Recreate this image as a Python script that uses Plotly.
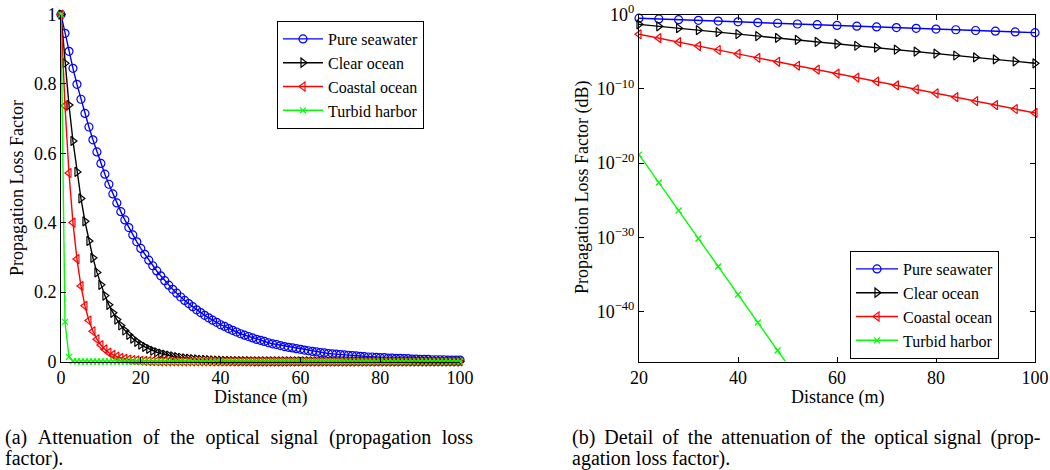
import plotly.graph_objects as go

# ---------------- data ----------------
names = ["Pure seawater", "Clear ocean", "Coastal ocean", "Turbid harbor"]

dist_a = list(range(0, 101))  # 0..100 m, 1 m step

pure_a = [
    1.000, 0.946, 0.894, 0.845, 0.799, 0.756, 0.715, 0.676, 0.639, 0.604,
    0.571, 0.540, 0.511, 0.483, 0.457, 0.432, 0.408, 0.386, 0.365, 0.345,
    0.326, 0.309, 0.292, 0.276, 0.261, 0.247, 0.233, 0.220, 0.208, 0.197,
    0.186, 0.176, 0.167, 0.158, 0.149, 0.141, 0.133, 0.126, 0.119, 0.113,
    0.106, 0.101, 0.095, 0.090, 0.085, 0.080, 0.076, 0.072, 0.068, 0.064,
    0.061, 0.058, 0.054, 0.051, 0.049, 0.046, 0.043, 0.041, 0.039, 0.037,
    0.035, 0.033, 0.031, 0.029, 0.028, 0.026, 0.025, 0.023, 0.022, 0.021,
    0.020, 0.019, 0.018, 0.017, 0.016, 0.015, 0.014, 0.013, 0.013, 0.012,
    0.011, 0.011, 0.010, 0.010, 0.009, 0.009, 0.008, 0.008, 0.007, 0.007,
    0.006, 0.006, 0.006, 0.005, 0.005, 0.005, 0.005, 0.004, 0.004, 0.004,
    0.004,
]
clear_a = [
    1.0, 0.8598, 0.7393, 0.6357, 0.5466, 0.4700, 0.4041, 0.3475, 0.2988, 0.2569,
    0.2209, 0.1899, 0.1633, 0.1404, 0.1208, 0.1038, 0.0893, 0.0768, 0.0660, 0.0568,
    0.0488, 0.0420, 0.0361, 0.0310, 0.0267, 0.0229, 0.0197, 0.0170, 0.0146, 0.0125,
    0.0108, 0.0093, 0.0080, 0.0068, 0.0059, 0.0051, 0.0044, 0.0037, 0.0032, 0.0028,
    0.0024, 0.0020, 0.0018, 0.0015, 0.0013, 0.0011, 0.0010, 0.0008, 0.0007, 0.0006,
    0.0005, 0.0005, 0.0004, 0.0003, 0.0003, 0.0002, 0.0002, 0.0002, 0.0002, 0.0001,
    0.0001, 0.0001, 0.0001, 0.0001, 0.0001, 0.0001, 0.0, 0.0, 0.0, 0.0,
    0.0, 0.0, 0.0, 0.0, 0.0, 0.0, 0.0, 0.0, 0.0, 0.0,
    0.0, 0.0, 0.0, 0.0, 0.0, 0.0, 0.0, 0.0, 0.0, 0.0,
    0.0, 0.0, 0.0, 0.0, 0.0, 0.0, 0.0, 0.0, 0.0, 0.0,
    0.0,
]
coastal_a = [
    1.0, 0.7371, 0.5434, 0.4005, 0.2952, 0.2176, 0.1604, 0.1182, 0.0872, 0.0642,
    0.0474, 0.0349, 0.0257, 0.0190, 0.0140, 0.0103, 0.0076, 0.0056, 0.0041, 0.0030,
    0.0022, 0.0017, 0.0012, 0.0009, 0.0007, 0.0005, 0.0004, 0.0003, 0.0002, 0.0001,
    0.0001, 0.0001, 0.0001, 0.0, 0.0, 0.0, 0.0, 0.0, 0.0, 0.0,
    0.0, 0.0, 0.0, 0.0, 0.0, 0.0, 0.0, 0.0, 0.0, 0.0,
    0.0, 0.0, 0.0, 0.0, 0.0, 0.0, 0.0, 0.0, 0.0, 0.0,
    0.0, 0.0, 0.0, 0.0, 0.0, 0.0, 0.0, 0.0, 0.0, 0.0,
    0.0, 0.0, 0.0, 0.0, 0.0, 0.0, 0.0, 0.0, 0.0, 0.0,
    0.0, 0.0, 0.0, 0.0, 0.0, 0.0, 0.0, 0.0, 0.0, 0.0,
    0.0, 0.0, 0.0, 0.0, 0.0, 0.0, 0.0, 0.0, 0.0, 0.0,
    0.0,
]
turbid_a = [
    1.0, 0.1142, 0.0130, 0.0015, 0.0002, 0.0, 0.0, 0.0, 0.0, 0.0,
    0.0, 0.0, 0.0, 0.0, 0.0, 0.0, 0.0, 0.0, 0.0, 0.0,
    0.0, 0.0, 0.0, 0.0, 0.0, 0.0, 0.0, 0.0, 0.0, 0.0,
    0.0, 0.0, 0.0, 0.0, 0.0, 0.0, 0.0, 0.0, 0.0, 0.0,
    0.0, 0.0, 0.0, 0.0, 0.0, 0.0, 0.0, 0.0, 0.0, 0.0,
    0.0, 0.0, 0.0, 0.0, 0.0, 0.0, 0.0, 0.0, 0.0, 0.0,
    0.0, 0.0, 0.0, 0.0, 0.0, 0.0, 0.0, 0.0, 0.0, 0.0,
    0.0, 0.0, 0.0, 0.0, 0.0, 0.0, 0.0, 0.0, 0.0, 0.0,
    0.0, 0.0, 0.0, 0.0, 0.0, 0.0, 0.0, 0.0, 0.0, 0.0,
    0.0, 0.0, 0.0, 0.0, 0.0, 0.0, 0.0, 0.0, 0.0, 0.0,
    0.0,
]

dist_b = [20, 24, 28, 32, 36, 40, 44, 48, 52, 56, 60, 64, 68, 72, 76, 80, 84, 88, 92, 96, 100]

pure_b = [3.26e-1, 2.61e-1, 2.08e-1, 1.67e-1, 1.33e-1, 1.06e-1, 8.51e-2, 6.80e-2, 5.44e-2, 4.35e-2,
          3.47e-2, 2.78e-2, 2.22e-2, 1.77e-2, 1.42e-2, 1.13e-2, 9.06e-3, 7.24e-3, 5.79e-3, 4.63e-3,
          3.70e-3]
clear_b = [4.88e-2, 2.67e-2, 1.46e-2, 7.97e-3, 4.36e-3, 2.38e-3, 1.30e-3, 7.12e-4, 3.89e-4, 2.13e-4,
           1.16e-4, 6.35e-5, 3.47e-5, 1.90e-5, 1.04e-5, 5.67e-6, 3.10e-6, 1.69e-6, 9.26e-7, 5.06e-7,
           2.77e-7]
coastal_b = [2.24e-3, 6.62e-4, 1.95e-4, 5.77e-5, 1.70e-5, 5.03e-6, 1.49e-6, 4.39e-7, 1.30e-7, 3.82e-8,
             1.13e-8, 3.33e-9, 9.83e-10, 2.90e-10, 8.57e-11, 2.53e-11, 7.47e-12, 2.21e-12, 6.51e-13, 1.92e-13,
             5.68e-14]
turbid_b = [1.42e-19, 2.41e-23, 4.09e-27, 6.97e-31, 1.18e-34, 2.01e-38, 3.42e-42, 5.81e-46, 9.86e-50, 1.68e-53,
            2.85e-57, 4.84e-61, 8.24e-65, 1.40e-68, 2.38e-72, 4.04e-76, 6.87e-80, 1.17e-83, 1.99e-87, 3.38e-91,
            5.73e-95]

ticks_a_x = [0, 20, 40, 60, 80, 100]
ticks_a_y = [0, 0.2, 0.4, 0.6, 0.8, 1]
ticktext_a_y = ["0", "0.2", "0.4", "0.6", "0.8", "1"]
ticks_b_x = [20, 40, 60, 80, 100]
ticks_b_y = [1e-40, 1e-30, 1e-20, 1e-10, 1]
ticktext_b_y = ["10<sup>\u221240</sup>", "10<sup>\u221230</sup>", "10<sup>\u221220</sup>",
                "10<sup>\u221210</sup>", "10<sup>0</sup>"]

# ---------------- styles ----------------
FONT = "Liberation Serif"
colors = ["#0000FF", "#000000", "#FF0000", "#00FF00"]
symbols = ["circle-open", "triangle-right-open", "triangle-left-open", "x-thin-open"]
msizes = [8, 8, 8, 6]

W, H = 1050, 470
def px(x):
    return x / W
def py(y):
    return 1 - y / H

fig = go.Figure()

series_a = [pure_a, clear_a, coastal_a, turbid_a]
series_b = [pure_b, clear_b, coastal_b, turbid_b]

for i, (nm, ys) in enumerate(zip(names, series_a)):
    fig.add_trace(go.Scatter(
        x=dist_a, y=ys, name=nm, mode="lines+markers",
        line=dict(color=colors[i], width=1.4),
        marker=dict(symbol=symbols[i], size=msizes[i], color=colors[i],
                    line=dict(color=colors[i], width=1.2)),
        cliponaxis=False, xaxis="x", yaxis="y", legend="legend",
    ))

for i, (nm, ys) in enumerate(zip(names, series_b)):
    fig.add_trace(go.Scatter(
        x=dist_b, y=ys, name=nm, mode="lines+markers",
        line=dict(color=colors[i], width=1.4),
        marker=dict(symbol=symbols[i], size=msizes[i], color=colors[i],
                    line=dict(color=colors[i], width=1.2)),
        cliponaxis=(i == 3), xaxis="x2", yaxis="y2", legend="legend2",
    ))

axis_common = dict(showgrid=False, zeroline=False, showline=True, linecolor="black",
                   linewidth=1, ticks="inside", ticklen=5, tickcolor="black",
                   automargin=False,
                   tickfont=dict(family=FONT, size=18, color="black"))

fig.update_layout(
    template="none",
    width=W, height=H, margin=dict(l=0, r=0, t=0, b=0, pad=0),
    paper_bgcolor="white", plot_bgcolor="white",
    font=dict(family=FONT, size=18, color="black"),
    xaxis=dict(domain=[px(61), px(460)], range=[0, 100], tickvals=ticks_a_x,
               anchor="y", **axis_common),
    yaxis=dict(domain=[py(361.5), py(14.6)], range=[0, 1], tickvals=ticks_a_y,
               ticktext=ticktext_a_y, anchor="x", **axis_common),
    xaxis2=dict(domain=[px(639), px(1035)], range=[20, 100], tickvals=ticks_b_x,
                anchor="y2", mirror="ticks", **axis_common),
    yaxis2=dict(domain=[py(361.5), py(14.6)], type="log", range=[-46.72, 0],
                tickvals=ticks_b_y, ticktext=ticktext_b_y, anchor="x2",
                mirror="ticks", **axis_common),
    legend=dict(x=px(277), y=py(21), xanchor="left", yanchor="top",
                bgcolor="white", bordercolor="black", borderwidth=1, itemwidth=40,
                font=dict(family=FONT, size=16, color="black"), tracegroupgap=0),
    legend2=dict(x=px(850), y=py(359), xanchor="left", yanchor="bottom",
                 bgcolor="white", bordercolor="black", borderwidth=1, itemwidth=42,
                 font=dict(family=FONT, size=16, color="black"), tracegroupgap=0),
    showlegend=True,
)

T = "\u2009\u200a"
cap_a1 = "(a) " + T + "Attenuation " + T + "of " + T + "the " + T + "optical " + T + "signal " + T + "(propagation " + T + "loss"
T2 = "\u2009"
cap_b1 = "(b) " + T2 + "Detail " + T2 + "of " + T2 + "the " + T2 + "attenuation of " + T2 + "the " + T2 + "optical signal " + T2 + "(prop-"

def note(text, x, y, size=18, angle=0, xanchor="center"):
    return dict(text=text, x=px(x), y=py(y), xref="paper", yref="paper",
                xanchor=xanchor, yanchor="middle", showarrow=False, textangle=angle,
                font=dict(family=FONT, size=size, color="black"))

ann = [
    note("Distance (m)", 260, 397),
    note("Distance (m)", 837, 397),
    note("Propagation Loss Factor", 17, 188, angle=-90),
    note("Propagation Loss Factor (dB)", 582, 188, angle=-90),
    note(cap_a1, 3, 437, size=20, xanchor="left"),
    note("factor).", 3, 458, size=20, xanchor="left"),
    note(cap_b1, 570, 437, size=20, xanchor="left"),
    note("agation loss factor).", 570, 458, size=20, xanchor="left"),
]
fig.update_layout(annotations=ann)

fig.write_html("out.html", config={"displayModeBar": False},
               post_script="document.body.style.margin='0px';")
